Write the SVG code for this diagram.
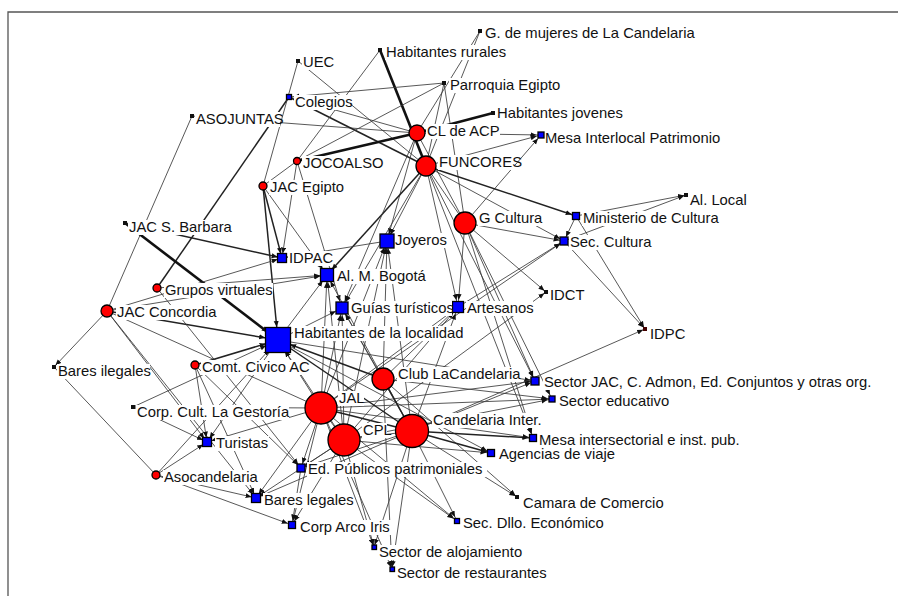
<svg xmlns="http://www.w3.org/2000/svg" width="898" height="596" viewBox="0 0 898 596">
<defs>
<style>
.e line{stroke:#3a3a3a;stroke-width:0.85;fill:none}
.e line.m{stroke-width:1.5;stroke:#222}
.e line.t{stroke-width:2.6;stroke:#111}
.r{fill:#f00;stroke:#000;stroke-width:1.3}
.b{fill:#00f;stroke:#000;stroke-width:1.3}
.k{fill:#111}
.bg{fill:#fff}
text{font-family:"Liberation Sans",Arial,sans-serif;font-size:14.8px;fill:#111}
</style>
<marker id="a0" markerUnits="userSpaceOnUse" markerWidth="7" markerHeight="6" refX="8" refY="3" orient="auto"><path d="M0,0.5 L6,3 L0,5.5z" fill="#111"/></marker>
<marker id="a1" markerUnits="userSpaceOnUse" markerWidth="7" markerHeight="6" refX="10.5" refY="3" orient="auto"><path d="M0,0.5 L6,3 L0,5.5z" fill="#111"/></marker>
<marker id="a2" markerUnits="userSpaceOnUse" markerWidth="7" markerHeight="6" refX="13" refY="3" orient="auto"><path d="M0,0.5 L6,3 L0,5.5z" fill="#111"/></marker>
<marker id="a3" markerUnits="userSpaceOnUse" markerWidth="7" markerHeight="6" refX="19" refY="3" orient="auto"><path d="M0,0.5 L6,3 L0,5.5z" fill="#111"/></marker>
</defs>
<rect width="898" height="596" fill="#fff"/>
<path d="M8,596 V12 H898" fill="none" stroke="#555" stroke-width="1.3"/>
<g id="connectors" class="e">
<line x1="192" y1="116" x2="107" y2="311"/>
<line x1="192" y1="116" x2="417" y2="133"/>
<line class="m" x1="289" y1="97" x2="157" y2="288"/>
<line x1="298" y1="61" x2="263" y2="186"/>
<line x1="298" y1="61" x2="426" y2="166"/>
<line class="m" x1="289" y1="97" x2="426" y2="166"/>
<line x1="289" y1="97" x2="417" y2="133"/>
<line class="t" x1="380" y1="50" x2="426" y2="166"/>
<line x1="380" y1="50" x2="297" y2="161"/>
<line class="t" x1="297" y1="161" x2="417" y2="133"/>
<line x1="444" y1="83" x2="297" y2="161"/>
<line x1="444" y1="83" x2="289" y2="97" marker-end="url(#a1)"/>
<line x1="444" y1="83" x2="465" y2="223"/>
<line x1="444" y1="83" x2="426" y2="166"/>
<line x1="480" y1="31" x2="417" y2="133"/>
<line x1="480" y1="31" x2="426" y2="166"/>
<line class="t" x1="493" y1="113" x2="417" y2="133"/>
<line x1="417" y1="133" x2="541" y2="135" marker-end="url(#a1)"/>
<line x1="426" y1="166" x2="541" y2="135" marker-end="url(#a1)"/>
<line x1="465" y1="223" x2="541" y2="135" marker-end="url(#a1)"/>
<line x1="426" y1="166" x2="387" y2="241" marker-end="url(#a2)"/>
<line x1="417" y1="133" x2="387" y2="241" marker-end="url(#a2)"/>
<line class="m" x1="426" y1="166" x2="327" y2="275" marker-end="url(#a2)"/>
<line x1="426" y1="166" x2="342" y2="308" marker-end="url(#a2)"/>
<line x1="417" y1="133" x2="342" y2="308" marker-end="url(#a2)"/>
<line x1="426" y1="166" x2="458" y2="307" marker-end="url(#a2)"/>
<line x1="426" y1="166" x2="465" y2="223"/>
<line x1="417" y1="133" x2="465" y2="223"/>
<line class="m" x1="426" y1="166" x2="576" y2="216" marker-end="url(#a1)"/>
<line x1="426" y1="166" x2="564" y2="241" marker-end="url(#a1)"/>
<line x1="263" y1="186" x2="297" y2="161"/>
<line x1="263" y1="186" x2="327" y2="275" marker-end="url(#a2)"/>
<line x1="297" y1="161" x2="342" y2="308" marker-end="url(#a2)"/>
<line x1="297" y1="161" x2="282" y2="258" marker-end="url(#a1)"/>
<line class="m" x1="263" y1="186" x2="282" y2="258" marker-end="url(#a1)"/>
<line class="m" x1="263" y1="186" x2="278" y2="340" marker-end="url(#a3)"/>
<line class="t" x1="125" y1="223" x2="278" y2="340" marker-end="url(#a3)"/>
<line class="m" x1="125" y1="223" x2="282" y2="258" marker-end="url(#a1)"/>
<line x1="107" y1="311" x2="282" y2="258" marker-end="url(#a1)"/>
<line x1="157" y1="288" x2="327" y2="275" marker-end="url(#a2)"/>
<line x1="107" y1="311" x2="327" y2="275" marker-end="url(#a2)"/>
<line class="m" x1="107" y1="311" x2="278" y2="340" marker-end="url(#a3)"/>
<line x1="107" y1="311" x2="54" y2="367" marker-end="url(#a0)"/>
<line x1="107" y1="311" x2="207" y2="442" marker-end="url(#a1)"/>
<line x1="107" y1="311" x2="321" y2="408"/>
<line x1="107" y1="311" x2="256" y2="498" marker-end="url(#a1)"/>
<line class="m" x1="195" y1="365" x2="278" y2="340" marker-end="url(#a3)"/>
<line x1="133" y1="407" x2="278" y2="340" marker-end="url(#a3)"/>
<line x1="156" y1="475" x2="278" y2="340" marker-end="url(#a3)"/>
<line x1="195" y1="365" x2="207" y2="442" marker-end="url(#a1)"/>
<line x1="195" y1="365" x2="256" y2="498" marker-end="url(#a1)"/>
<line x1="195" y1="365" x2="301" y2="468" marker-end="url(#a1)"/>
<line x1="133" y1="407" x2="321" y2="408"/>
<line x1="133" y1="407" x2="207" y2="442" marker-end="url(#a1)"/>
<line x1="157" y1="288" x2="301" y2="468" marker-end="url(#a1)"/>
<line x1="156" y1="475" x2="207" y2="442" marker-end="url(#a1)"/>
<line x1="278" y1="340" x2="207" y2="442" marker-end="url(#a1)"/>
<line x1="156" y1="475" x2="256" y2="498" marker-end="url(#a1)"/>
<line x1="156" y1="475" x2="292" y2="525" marker-end="url(#a1)"/>
<line x1="54" y1="367" x2="156" y2="475"/>
<line x1="321" y1="408" x2="207" y2="442" marker-end="url(#a1)"/>
<line x1="321" y1="408" x2="256" y2="498" marker-end="url(#a1)"/>
<line x1="412" y1="431" x2="256" y2="498" marker-end="url(#a1)"/>
<line x1="344" y1="440" x2="256" y2="498" marker-end="url(#a1)"/>
<line x1="321" y1="408" x2="292" y2="525" marker-end="url(#a1)"/>
<line x1="344" y1="440" x2="292" y2="525" marker-end="url(#a1)"/>
<line x1="301" y1="468" x2="292" y2="525" marker-end="url(#a1)"/>
<line x1="321" y1="408" x2="301" y2="468" marker-end="url(#a1)"/>
<line x1="344" y1="440" x2="301" y2="468" marker-end="url(#a1)"/>
<line x1="412" y1="431" x2="301" y2="468" marker-end="url(#a1)"/>
<line x1="321" y1="408" x2="374" y2="547" marker-end="url(#a0)"/>
<line x1="321" y1="408" x2="392" y2="569" marker-end="url(#a0)"/>
<line x1="344" y1="440" x2="374" y2="547" marker-end="url(#a0)"/>
<line x1="412" y1="431" x2="392" y2="569" marker-end="url(#a0)"/>
<line x1="412" y1="431" x2="374" y2="547" marker-end="url(#a0)"/>
<line x1="383" y1="379" x2="392" y2="569" marker-end="url(#a0)"/>
<line x1="344" y1="440" x2="457" y2="521" marker-end="url(#a1)"/>
<line x1="321" y1="408" x2="457" y2="521" marker-end="url(#a1)"/>
<line x1="412" y1="431" x2="457" y2="521" marker-end="url(#a1)"/>
<line x1="412" y1="431" x2="517" y2="497" marker-end="url(#a0)"/>
<line x1="383" y1="379" x2="517" y2="497" marker-end="url(#a0)"/>
<line class="m" x1="412" y1="431" x2="491" y2="453" marker-end="url(#a1)"/>
<line x1="344" y1="440" x2="491" y2="453" marker-end="url(#a1)"/>
<line x1="278" y1="340" x2="491" y2="453" marker-end="url(#a1)"/>
<line class="m" x1="412" y1="431" x2="533" y2="438" marker-end="url(#a1)"/>
<line x1="321" y1="408" x2="533" y2="438" marker-end="url(#a1)"/>
<line x1="321" y1="408" x2="535" y2="381" marker-end="url(#a1)"/>
<line x1="412" y1="431" x2="535" y2="381" marker-end="url(#a1)"/>
<line x1="278" y1="340" x2="535" y2="381" marker-end="url(#a1)"/>
<line x1="321" y1="408" x2="552" y2="399" marker-end="url(#a1)"/>
<line x1="344" y1="440" x2="552" y2="399" marker-end="url(#a1)"/>
<line x1="383" y1="379" x2="552" y2="399" marker-end="url(#a1)"/>
<line x1="465" y1="223" x2="535" y2="381" marker-end="url(#a1)"/>
<line x1="465" y1="223" x2="552" y2="399" marker-end="url(#a1)"/>
<line x1="426" y1="166" x2="535" y2="381" marker-end="url(#a1)"/>
<line x1="426" y1="166" x2="533" y2="438" marker-end="url(#a1)"/>
<line x1="465" y1="223" x2="533" y2="438" marker-end="url(#a1)"/>
<line x1="465" y1="223" x2="546" y2="292" marker-end="url(#a0)"/>
<line x1="344" y1="440" x2="546" y2="292" marker-end="url(#a0)"/>
<line x1="465" y1="223" x2="564" y2="241" marker-end="url(#a1)"/>
<line x1="458" y1="307" x2="564" y2="241" marker-end="url(#a1)"/>
<line x1="321" y1="408" x2="564" y2="241" marker-end="url(#a1)"/>
<line x1="321" y1="408" x2="458" y2="307" marker-end="url(#a2)"/>
<line x1="344" y1="440" x2="458" y2="307" marker-end="url(#a2)"/>
<line x1="383" y1="379" x2="458" y2="307" marker-end="url(#a2)"/>
<line x1="412" y1="431" x2="458" y2="307" marker-end="url(#a2)"/>
<line x1="465" y1="223" x2="458" y2="307" marker-end="url(#a2)"/>
<line x1="576" y1="216" x2="686" y2="195" marker-end="url(#a0)"/>
<line x1="564" y1="241" x2="686" y2="195" marker-end="url(#a0)"/>
<line x1="576" y1="216" x2="564" y2="241" marker-end="url(#a1)"/>
<line x1="564" y1="241" x2="645" y2="329" marker-end="url(#a0)"/>
<line x1="576" y1="216" x2="645" y2="329" marker-end="url(#a0)"/>
<line x1="412" y1="431" x2="645" y2="329" marker-end="url(#a0)"/>
<line x1="387" y1="241" x2="282" y2="258" marker-end="url(#a1)"/>
<line x1="321" y1="408" x2="387" y2="241" marker-end="url(#a2)"/>
<line x1="344" y1="440" x2="387" y2="241" marker-end="url(#a2)"/>
<line x1="383" y1="379" x2="387" y2="241" marker-end="url(#a2)"/>
<line x1="412" y1="431" x2="387" y2="241" marker-end="url(#a2)"/>
<line x1="321" y1="408" x2="342" y2="308" marker-end="url(#a2)"/>
<line x1="344" y1="440" x2="342" y2="308" marker-end="url(#a2)"/>
<line x1="412" y1="431" x2="342" y2="308" marker-end="url(#a2)"/>
<line x1="383" y1="379" x2="342" y2="308" marker-end="url(#a2)"/>
<line x1="321" y1="408" x2="327" y2="275" marker-end="url(#a2)"/>
<line x1="344" y1="440" x2="327" y2="275" marker-end="url(#a2)"/>
<line x1="278" y1="340" x2="327" y2="275" marker-end="url(#a2)"/>
<line x1="412" y1="431" x2="327" y2="275" marker-end="url(#a2)"/>
<line class="m" x1="383" y1="379" x2="278" y2="340" marker-end="url(#a3)"/>
<line class="m" x1="278" y1="340" x2="412" y2="431"/>
<line class="m" x1="321" y1="408" x2="412" y2="431"/>
<line class="m" x1="383" y1="379" x2="412" y2="431"/>
<line x1="321" y1="408" x2="344" y2="440"/>
<line x1="344" y1="440" x2="412" y2="431"/>
<line x1="321" y1="408" x2="278" y2="340" marker-end="url(#a3)"/>
<line x1="344" y1="440" x2="278" y2="340" marker-end="url(#a3)"/>
<line x1="278" y1="340" x2="342" y2="308" marker-end="url(#a2)"/>
</g>
<g id="n-mujeres"><rect class="bg" x="484" y="26" width="214" height="15"/><rect class="k" x="478" y="29" width="4" height="4"/><text x="485" y="38">G. de mujeres de La Candelaria</text></g>
<g id="n-rurales"><rect class="bg" x="385" y="45" width="124" height="15"/><rect class="k" x="378" y="48" width="4" height="4"/><text x="386" y="57">Habitantes rurales</text></g>
<g id="n-uec"><rect class="bg" x="302" y="55" width="30" height="15"/><rect class="k" x="296" y="59" width="4" height="4"/><text x="303" y="67">UEC</text></g>
<g id="n-parroquia"><rect class="bg" x="449" y="78" width="114" height="15"/><rect class="k" x="442" y="81" width="4" height="4"/><text x="450" y="90">Parroquia Egipto</text></g>
<g id="n-jovenes"><rect class="bg" x="496" y="106" width="132" height="15"/><rect class="k" x="491" y="111" width="4" height="4"/><text x="497" y="118">Habitantes jovenes</text></g>
<g id="n-colegios"><rect class="bg" x="294" y="95" width="56" height="15"/><rect class="b" x="286.5" y="94.5" width="5" height="5"/><text x="295" y="107">Colegios</text></g>
<g id="n-asojuntas"><rect class="bg" x="195" y="112" width="85" height="15"/><rect class="k" x="190" y="114" width="4" height="4"/><text x="196" y="124">ASOJUNTAS</text></g>
<g id="n-clacp"><rect class="bg" x="426" y="124" width="74" height="15"/><circle class="r" cx="417" cy="133" r="8"/><text x="427" y="136">CL de ACP</text></g>
<g id="n-mesaint"><rect class="bg" x="544" y="131" width="182" height="15"/><rect class="b" x="538" y="132" width="6" height="6"/><text x="545" y="143">Mesa Interlocal Patrimonio</text></g>
<g id="n-funcores"><rect class="bg" x="438" y="155" width="77" height="15"/><circle class="r" cx="426" cy="166" r="10"/><text x="439" y="167">FUNCORES</text></g>
<g id="n-jocoalso"><rect class="bg" x="302" y="156" width="76" height="15"/><circle class="r" cx="297" cy="161" r="3.5"/><text x="303" y="168">JOCOALSO</text></g>
<g id="n-jacegipto"><rect class="bg" x="269" y="180" width="76" height="15"/><circle class="r" cx="263" cy="186" r="4"/><text x="270" y="192">JAC Egipto</text></g>
<g id="n-allocal"><rect class="bg" x="689" y="193" width="58" height="15"/><rect class="k" x="684" y="193" width="4" height="4"/><text x="690" y="205">Al. Local</text></g>
<g id="n-gcultura"><rect class="bg" x="478" y="211" width="67" height="15"/><circle class="r" cx="465" cy="223" r="11"/><text x="479" y="223">G Cultura</text></g>
<g id="n-minist"><rect class="bg" x="582" y="211" width="140" height="15"/><rect class="b" x="572.5" y="212.5" width="7" height="7"/><text x="583" y="223">Ministerio de Cultura</text></g>
<g id="n-seccultura"><rect class="bg" x="569" y="235" width="86" height="15"/><rect class="b" x="560" y="237" width="8" height="8"/><text x="570" y="247">Sec. Cultura</text></g>
<g id="n-jacsb"><rect class="bg" x="128" y="220" width="103" height="15"/><rect class="k" x="123" y="221" width="4" height="4"/><text x="129" y="232">JAC S. Barbara</text></g>
<g id="n-joyeros"><rect class="bg" x="394" y="233" width="55" height="15"/><rect class="b" x="380" y="234" width="14" height="14"/><text x="395" y="245">Joyeros</text></g>
<g id="n-idpac"><rect class="bg" x="288" y="251" width="45" height="15"/><rect class="b" x="277.5" y="253.5" width="9" height="9"/><text x="289" y="263">IDPAC</text></g>
<g id="n-almb"><rect class="bg" x="336" y="269" width="92" height="15"/><rect class="b" x="320.5" y="268.5" width="13" height="13"/><text x="337" y="281">Al. M. Bogotá</text></g>
<g id="n-idct"><rect class="bg" x="549" y="288" width="37" height="15"/><rect class="k" x="544" y="290" width="4" height="4"/><text x="550" y="300">IDCT</text></g>
<g id="n-grupos"><rect class="bg" x="164" y="283" width="109" height="15"/><circle class="r" cx="157" cy="288" r="4"/><text x="165" y="295">Grupos virtuales</text></g>
<g id="n-artesanos"><rect class="bg" x="466" y="301" width="67" height="15"/><rect class="b" x="452.5" y="301.5" width="11" height="11"/><text x="467" y="313">Artesanos</text></g>
<g id="n-guias"><rect class="bg" x="350" y="301" width="102" height="15"/><rect class="b" x="336" y="302" width="12" height="12"/><text x="351" y="313">Guías turísticos</text></g>
<g id="n-jacconc"><rect class="bg" x="116" y="305" width="98" height="15"/><circle class="r" cx="107" cy="311" r="6"/><text x="117" y="317">JAC Concordia</text></g>
<g id="n-idpc"><rect class="bg" x="649" y="327" width="37" height="15"/><rect x="643" y="327" width="4" height="4" fill="#400"/><text x="650" y="339">IDPC</text></g>
<g id="n-habitantes"><rect class="bg" x="293" y="326" width="173" height="15"/><rect class="b" x="265.5" y="327.5" width="25" height="25"/><text x="294" y="338">Habitantes de la localidad</text></g>
<g id="n-comt"><rect class="bg" x="201" y="360" width="105" height="15"/><circle class="r" cx="195" cy="365" r="4"/><text x="202" y="372">Comt. Civico AC</text></g>
<g id="n-baresil"><rect class="bg" x="57" y="364" width="93" height="15"/><rect class="k" x="52" y="365" width="4" height="4"/><text x="58" y="376">Bares ilegales</text></g>
<g id="n-club"><rect class="bg" x="397" y="367" width="122" height="15"/><circle class="r" cx="383" cy="379" r="11"/><text x="398" y="379">Club LaCandelaria</text></g>
<g id="n-sectorjac"><rect class="bg" x="543" y="375" width="337" height="15"/><rect class="b" x="531" y="377" width="8" height="8"/><text x="544" y="387">Sector JAC, C. Admon, Ed. Conjuntos y otras org.</text></g>
<g id="n-sectoredu"><rect class="bg" x="558" y="394" width="115" height="15"/><rect class="b" x="549" y="396" width="6" height="6"/><text x="559" y="406">Sector educativo</text></g>
<g id="n-gestoria"><rect class="bg" x="136" y="405" width="153" height="15"/><rect class="k" x="131" y="405" width="4" height="4"/><text x="137" y="417">Corp. Cult. La Gestoría</text></g>
<g id="n-jal"><rect class="bg" x="338" y="391" width="26" height="15"/><circle class="r" cx="321" cy="408" r="16"/><text x="339" y="403">JAL</text></g>
<g id="n-ci"><rect class="bg" x="432" y="413" width="115" height="15"/><circle class="r" cx="412" cy="431" r="16.5"/><text x="433" y="425">Candelaria Inter.</text></g>
<g id="n-cpl"><rect class="bg" x="362" y="423" width="25" height="15"/><circle class="r" cx="344" cy="440" r="16"/><text x="363" y="435">CPL</text></g>
<g id="n-mesainter"><rect class="bg" x="538" y="433" width="211" height="15"/><rect class="b" x="529.5" y="434.5" width="7" height="7"/><text x="539" y="445">Mesa intersectorial e inst. pub.</text></g>
<g id="n-turistas"><rect class="bg" x="215" y="436" width="54" height="15"/><rect class="b" x="202.5" y="437.5" width="9" height="9"/><text x="216" y="448">Turistas</text></g>
<g id="n-agencias"><rect class="bg" x="498" y="447" width="118" height="15"/><rect class="b" x="487.5" y="449.5" width="7" height="7"/><text x="499" y="459">Agencias de viaje</text></g>
<g id="n-edpub"><rect class="bg" x="307" y="462" width="180" height="15"/><rect class="b" x="297" y="464" width="8" height="8"/><text x="308" y="474">Ed. Públicos patrimoniales</text></g>
<g id="n-asocand"><rect class="bg" x="163" y="470" width="95" height="15"/><circle class="r" cx="156" cy="475" r="4"/><text x="164" y="482">Asocandelaria</text></g>
<g id="n-camara"><rect class="bg" x="522" y="496" width="143" height="15"/><rect class="k" x="515" y="495" width="4" height="4"/><text x="523" y="508">Camara de Comercio</text></g>
<g id="n-bareslegales"><rect class="bg" x="263" y="493" width="90" height="15"/><rect class="b" x="251.5" y="493.5" width="9" height="9"/><text x="264" y="505">Bares legales</text></g>
<g id="n-secdllo"><rect class="bg" x="462" y="516" width="143" height="15"/><rect class="b" x="454.5" y="518.5" width="5" height="5"/><text x="463" y="528">Sec. Dllo. Económico</text></g>
<g id="n-corparco"><rect class="bg" x="299" y="520" width="93" height="15"/><rect class="b" x="288.5" y="521.5" width="7" height="7"/><text x="300" y="532">Corp Arco Iris</text></g>
<g id="n-alojamiento"><rect class="bg" x="378" y="545" width="147" height="15"/><rect class="b" x="372" y="545" width="4.5" height="4.5"/><text x="379" y="557">Sector de alojamiento</text></g>
<g id="n-restaurantes"><rect class="bg" x="396" y="566" width="155" height="15"/><rect class="b" x="390" y="567" width="4.5" height="4.5"/><text x="397" y="578">Sector de restaurantes</text></g>
</svg>
